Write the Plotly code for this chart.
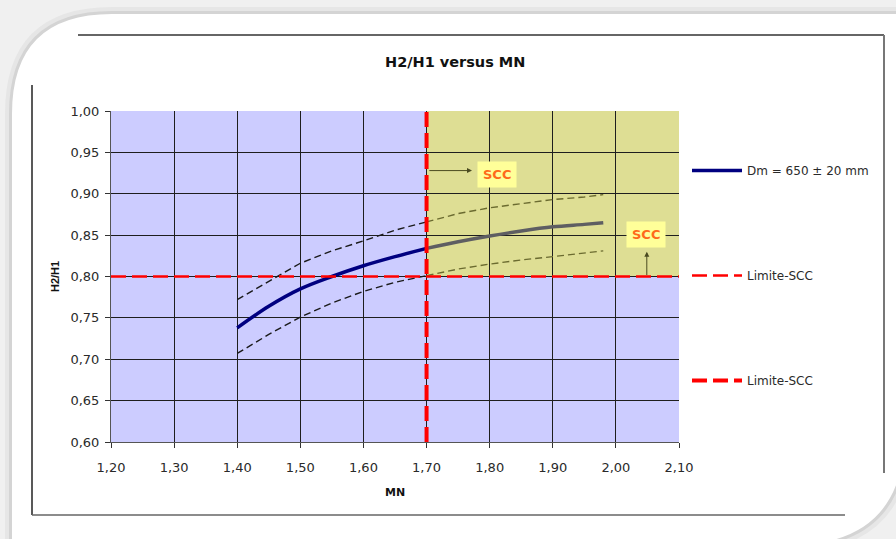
import plotly.graph_objects as go

# ---------------- data ----------------
mn_main = [1.40, 1.45, 1.50, 1.55, 1.60, 1.65, 1.70]
h_main = [0.738, 0.764, 0.785, 0.800, 0.813, 0.824, 0.834]
mn_ext = [1.70, 1.75, 1.80, 1.85, 1.90, 1.95, 1.98]
h_ext = [0.834, 0.842, 0.849, 0.855, 0.860, 0.863, 0.865]

h_upper_main = [0.772, 0.794, 0.816, 0.831, 0.843, 0.856, 0.866]
h_upper_ext = [0.866, 0.876, 0.883, 0.888, 0.893, 0.896, 0.899]
h_lower_main = [0.707, 0.730, 0.751, 0.768, 0.782, 0.793, 0.801]
h_lower_ext = [0.801, 0.809, 0.815, 0.820, 0.824, 0.828, 0.831]

limit_mn = 1.70
limit_h = 0.80
x_range = [1.20, 2.10]
y_range = [0.60, 1.00]

x_ticks = [1.20, 1.30, 1.40, 1.50, 1.60, 1.70, 1.80, 1.90, 2.00, 2.10]
x_ticktext = ["1,20", "1,30", "1,40", "1,50", "1,60", "1,70", "1,80", "1,90", "2,00", "2,10"]
y_ticks = [0.60, 0.65, 0.70, 0.75, 0.80, 0.85, 0.90, 0.95, 1.00]
y_ticktext = ["0,60", "0,65", "0,70", "0,75", "0,80", "0,85", "0,90", "0,95", "1,00"]

scc_label_1 = [1.8124, 0.9233]
scc_label_2 = [2.0477, 0.8508]
arrow_1 = [[1.702, 0.928], [1.772, 0.928]]
arrow_2 = [[2.049, 0.800], [2.049, 0.830]]

series_name = "Dm = 650 ± 20 mm"
limit_name = "Limite-SCC"

# ---------------- layout helpers ----------------
W, H = 896, 539
L, R, T, B = 111, 679, 111, 442


def px(x):
    return (x - L) / (R - L)


def py(y):
    return (B - y) / (B - T)


def card_path(d):
    pts = [
        ("M", [(12 - d, 560)]),
        ("L", [(12 - d, 114)]),
        ("Q", [(12 - d, 14 - d), (112, 14 - d)]),
        ("L", [(905 + d, 14 - d)]),
        ("L", [(905 + d, 430)]),
        ("Q", [(905 + d, 545 + d), (790, 545 + d)]),
        ("L", [(12 - d, 560)]),
    ]
    s = ""
    for cmd, ps in pts:
        s += cmd + " " + " ".join(f"{px(a):.5f},{py(b):.5f}" for a, b in ps) + " "
    return s + "Z"


FONT = "DejaVu Sans, Arial, sans-serif"
TEXT = "#2a2a2a"

fig = go.Figure()

# dashed envelopes
dash_black = dict(color="#1a1a1a", width=1.4, dash="7px,4px")
dash_olive = dict(color="#6b6b30", width=1.4, dash="7px,4px")
fig.add_trace(go.Scatter(x=mn_main, y=h_upper_main, mode="lines", line=dash_black,
                         showlegend=False, hoverinfo="skip"))
fig.add_trace(go.Scatter(x=mn_main, y=h_lower_main, mode="lines", line=dash_black,
                         showlegend=False, hoverinfo="skip"))
fig.add_trace(go.Scatter(x=mn_ext, y=h_upper_ext, mode="lines", line=dash_olive,
                         showlegend=False, hoverinfo="skip"))
fig.add_trace(go.Scatter(x=mn_ext, y=h_lower_ext, mode="lines", line=dash_olive,
                         showlegend=False, hoverinfo="skip"))

# main curve
fig.add_trace(go.Scatter(x=mn_ext, y=h_ext, mode="lines",
                         line=dict(color="#5e5e62", width=3.5, shape="spline"),
                         showlegend=False, hoverinfo="skip"))
fig.add_trace(go.Scatter(x=mn_main, y=h_main, mode="lines", name=series_name,
                         line=dict(color="#000080", width=3.5, shape="spline"),
                         legendgroup="a"))

# limit lines
fig.add_trace(go.Scatter(x=x_range, y=[limit_h, limit_h], mode="lines", name=limit_name,
                         line=dict(color="#FF0000", width=2.5, dash="15px,6px"),
                         legendgroup="b"))
fig.add_trace(go.Scatter(x=[limit_mn, limit_mn], y=y_range, mode="lines", name=limit_name,
                         line=dict(color="#FF0000", width=4, dash="15px,6px"),
                         legendgroup="c"))

shapes = []
# background card / shadow
shapes.append(dict(type="path", xref="paper", yref="paper", path=card_path(7),
                   fillcolor="#e6e6e6", line=dict(width=0), layer="below"))
shapes.append(dict(type="path", xref="paper", yref="paper", path=card_path(3),
                   fillcolor="#d4d4d4", line=dict(width=0), layer="below"))
shapes.append(dict(type="path", xref="paper", yref="paper", path=card_path(0),
                   fillcolor="#ffffff", line=dict(width=0), layer="below"))
# chart frame lines
for (x0, y0, x1, y1, c, w) in [
    (32, 85, 32, 515, "#222222", 1.5),
    (32, 515, 845, 515, "#666666", 1.6),
    (78, 35, 884, 35, "#333333", 1.5),
    (884, 35, 884, 473, "#777777", 2),
]:
    shapes.append(dict(type="line", xref="paper", yref="paper",
                       x0=px(x0), y0=py(y0), x1=px(x1), y1=py(y1),
                       line=dict(color=c, width=w), layer="below"))
# plot background
shapes.append(dict(type="rect", xref="x", yref="y", x0=x_range[0], x1=x_range[1],
                   y0=y_range[0], y1=y_range[1], fillcolor="#CCCCFF",
                   line=dict(width=0), layer="below"))
# SCC zone
shapes.append(dict(type="rect", xref="x", yref="y", x0=limit_mn, x1=x_range[1],
                   y0=limit_h, y1=y_range[1], fillcolor="#DEDE94",
                   line=dict(width=0), layer="below"))

center = dict(xanchor="center", yanchor="middle", showarrow=False,
              xref="paper", yref="paper")
annotations = [
    dict(text="<b>H2/H1 versus MN</b>", x=px(455), y=py(62),
         font=dict(family=FONT, size=14.5, color="#111111"), **center),
    dict(text="<b>MN</b>", x=px(395), y=py(492),
         font=dict(family=FONT, size=11, color="#111111"), **center),
    dict(text="<b>H2/H1</b>", x=px(55), y=py(277), textangle=-90,
         font=dict(family="Liberation Sans, Arial", size=11, color="#111111"), **center),
]
for lab in (scc_label_1, scc_label_2):
    annotations.append(dict(text="<b>SCC</b>", x=lab[0], y=lab[1], xref="x", yref="y",
                            xanchor="center", yanchor="middle",
                            showarrow=False, bgcolor="#FFFF99", borderpad=5,
                            font=dict(family=FONT, size=13, color="#FF6A1A")))
for arr in (arrow_1, arrow_2):
    annotations.append(dict(text="", x=arr[1][0], y=arr[1][1], ax=arr[0][0], ay=arr[0][1],
                            xref="x", yref="y", axref="x", ayref="y", showarrow=True,
                            arrowhead=2, arrowsize=1, arrowwidth=1, arrowcolor="#4a4a20"))

axis_common = dict(showgrid=True, gridcolor="#1e1e1e", gridwidth=1, zeroline=False,
                   showline=True, linecolor="#555555", linewidth=1, mirror=False,
                   ticks="outside", ticklen=5, tickcolor="#333333",
                   tickfont=dict(family=FONT, size=13, color=TEXT))

fig.update_layout(
    width=W, height=H,
    margin=dict(l=L, r=W - R, t=T, b=H - B),
    paper_bgcolor="#f0f0f0",
    plot_bgcolor="rgba(0,0,0,0)",
    shapes=shapes,
    annotations=annotations,
    xaxis=dict(range=x_range, tickvals=x_ticks, ticktext=x_ticktext,
               ticklabelstandoff=8, **axis_common),
    yaxis=dict(range=y_range, tickvals=y_ticks, ticktext=y_ticktext,
               ticklabelstandoff=3, **axis_common),
    legend=dict(x=px(687), y=py(156), xanchor="left", yanchor="top",
                bgcolor="rgba(0,0,0,0)", tracegroupgap=86, itemwidth=50,
                font=dict(family=FONT, size=12, color=TEXT)),
    showlegend=True,
)

fig.write_html("out.html", config={"displayModeBar": False},
               post_script="document.body.style.margin='0';")
